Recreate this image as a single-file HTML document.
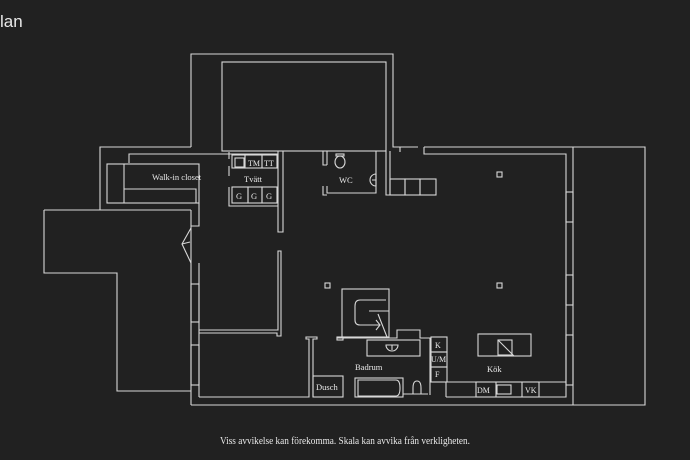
<!DOCTYPE html>
<html><head><meta charset="utf-8"><style>
html,body{margin:0;padding:0;background:#212121;}
svg{display:block}
text{font-family:"Liberation Serif",serif;fill:#e8e8e8}
</style></head><body>
<svg width="690" height="460" viewBox="0 0 690 460" xmlns="http://www.w3.org/2000/svg">
<rect width="690" height="460" fill="#212121"/>
<text x="0" y="27" font-size="17" style="font-family:'Liberation Sans',sans-serif">lan</text>
<g fill="none" stroke="#d8d8d8" stroke-width="1.1">
<polyline points="191,147 191,54 393,54 393,147 400,147 400,152"/>
<rect x="222" y="62" width="164" height="89"/>
<polyline points="400,147 418,147"/>
<polyline points="424,147 645,147 645,405 191,405"/>
<polyline points="424,147 424,154 566,154 566,397 446,397"/>
<line x1="573" y1="147" x2="573" y2="405"/>
<rect x="566" y="192" width="7" height="30"/><rect x="566" y="275" width="7" height="30"/><rect x="566" y="335" width="7" height="50"/>
<polyline points="191,147 100,147 100,210"/>
<polyline points="129,163 129,154 229,154"/>
<rect x="107" y="164" width="92" height="39"/>
<line x1="124" y1="164" x2="124" y2="203"/>
<polyline points="124,189 196,189 196,203"/>
<polyline points="199,203 199,226 191,226"/>
<polyline points="44,210 191,210"/>
<polyline points="44,210 44,273 117,273 117,391 191,391"/>
<line x1="191" y1="210" x2="191" y2="405"/>
<line x1="199" y1="263" x2="199" y2="397"/>
<polyline points="191,228 182,244 191,263"/><polyline points="182,244 190,242"/>
<rect x="191" y="284" width="8" height="38"/><rect x="191" y="345" width="8" height="40"/>
<polyline points="199,330 278,330 278,251 281,251 281,336 277,336 277,333 199,333"/>
<polyline points="199,397 309,397 309,339 306,339 306,337 317,337 317,339 313,339 313,397"/>
<rect x="313" y="376" width="30" height="21"/>
<polyline points="229,152 229,159"/><polyline points="229,166 229,176"/>
<polyline points="229,187 229,206 278,206"/>
<polyline points="229,154 278,154 278,151 303,151"/>
<polyline points="278,154 278,232 283,232 283,151"/>
<rect x="232" y="155" width="13" height="13"/><rect x="235" y="158" width="9" height="9"/>
<rect x="245" y="155" width="17" height="13"/><rect x="262" y="155" width="15" height="13"/>
<rect x="232" y="187" width="16" height="16"/><rect x="248" y="187" width="14" height="16"/><rect x="262" y="187" width="15" height="16"/>
<polyline points="327,165 327,151 376,151 376,193 327,193 327,186"/>
<polyline points="323,151 323,165 327,165"/><polyline points="323,186 323,195 327,195"/>
<ellipse cx="340" cy="162" rx="5" ry="6"/><rect x="336" y="154" width="8" height="2"/>
<path d="M376,174 a6,6 0 1,0 0,12 M372,180 h4 M376,174 v12"/>
<polyline points="386,151 386,195 390,195 390,151"/>
<rect x="390" y="179" width="15" height="16"/><rect x="405" y="179" width="15" height="16"/><rect x="420" y="179" width="16" height="16"/>
<rect x="325" y="283" width="5" height="5"/><rect x="497" y="172" width="5" height="5"/><rect x="497" y="283" width="5" height="5"/>
<rect x="342" y="289" width="47" height="48"/>
<path d="M386,300 H360 Q355,300 355,306 V320 Q355,325 360,325 H380 M376,320 L380,325 L376,330 M369,311 H389 M378,314 L387,337"/>
<polyline points="337,337 337,338 397,338 397,330 420,330 420,338 430,338 430,395"/>
<rect x="337" y="337" width="6" height="3"/>
<rect x="367" y="340" width="53" height="16"/>
<path d="M386,345 a6,6 0 0,0 12,0 z"/><line x1="392" y1="345" x2="392" y2="350"/>
<rect x="355" y="378" width="48" height="19"/>
<path d="M358,380 h38 q4,0 4,8 q0,8 -4,8 h-38 z"/>
<path d="M413,394 v-6 q0,-7 4,-7 q4,0 4,7 v6"/>
<polyline points="403,394 428,394"/>
<rect x="431" y="337" width="16" height="15"/><rect x="431" y="352" width="16" height="15"/><rect x="431" y="367" width="16" height="15"/>
<polyline points="447,382 566,382"/><line x1="446" y1="382" x2="446" y2="397"/>
<rect x="476" y="382" width="63" height="15"/><line x1="496" y1="382" x2="496" y2="397"/><line x1="522" y1="382" x2="522" y2="397"/>
<rect x="497" y="385" width="14" height="9"/>
<rect x="478" y="334" width="53" height="22"/><rect x="498" y="340" width="14" height="15"/><line x1="498" y1="340" x2="514" y2="356"/>
</g>
<g font-size="8.5">
<text x="152" y="180">Walk-in closet</text>
<text x="244" y="182">Tvätt</text>
<text x="248" y="166" font-size="8">TM</text><text x="264" y="166" font-size="8">TT</text>
<text x="236" y="199">G</text><text x="251" y="199">G</text><text x="266" y="199">G</text>
<text x="339" y="183">WC</text>
<text x="355" y="370">Badrum</text>
<text x="316" y="390">Dusch</text>
<text x="435" y="348" font-size="8">K</text><text x="431" y="362" font-size="8">U/M</text><text x="435" y="377" font-size="8">F</text>
<text x="487" y="372">Kök</text>
<text x="477" y="393" font-size="8">DM</text><text x="525" y="393" font-size="8">VK</text>
</g>
<text x="220" y="444" font-size="10" textLength="250" lengthAdjust="spacingAndGlyphs">Viss avvikelse kan förekomma. Skala kan avvika från verkligheten.</text>
</svg>
</body></html>
